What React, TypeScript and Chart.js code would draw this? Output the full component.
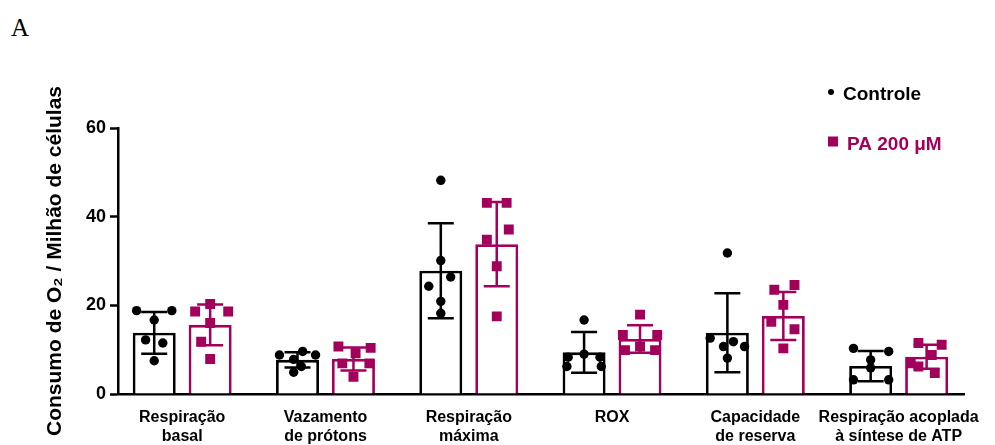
import { useEffect, useRef } from 'react';
import { Chart, registerables } from 'chart.js';

Chart.register(...registerables);

// ---- data ----
const categories: string[][] = [
  ['Respiração', 'basal'],
  ['Vazamento', 'de prótons'],
  ['Respiração', 'máxima'],
  ['ROX'],
  ['Capacidade', 'de reserva'],
  ['Respiração acoplada', 'à síntese de ATP'],
];

const seriesNames = ['Controle', 'PA 200 μM'];

const controleMean = [13.8, 7.7, 27.8, 9.4, 13.8, 6.3];
const controleSD = [4.7, 1.7, 10.7, 4.6, 8.9, 3.4];
const paMean = [15.6, 7.9, 33.8, 12.4, 17.6, 8.4];
const paSD = [4.6, 2.6, 9.5, 3.1, 5.4, 2.7];

// individual replicates per category
const controlePoints = [
  [18.8, 18.8, 16.7, 12.2, 11.5, 7.5],
  [9.6, 8.8, 8.8, 7.8, 6.2, 4.9],
  [48.2, 30.1, 26.4, 24.3, 20.9, 18.2],
  [16.7, 9.0, 8.3, 8.3, 6.2, 6.2],
  [31.8, 12.6, 11.8, 10.7, 10.7, 8.1],
  [10.3, 9.6, 7.7, 5.9, 3.2, 3.2],
];
const paPoints = [
  [20.3, 18.6, 18.6, 16.0, 11.8, 7.9],
  [10.7, 10.4, 9.2, 6.9, 6.9, 3.9],
  [43.1, 43.1, 37.1, 34.8, 28.8, 17.5],
  [17.9, 13.3, 13.3, 10.7, 9.9, 9.9],
  [24.6, 23.5, 20.1, 16.3, 14.6, 10.3],
  [11.5, 11.1, 8.8, 6.9, 6.2, 4.7],
];

// horizontal scatter of the replicates, as a fraction of bar width
const controleJitter = [
  [-0.41, 0.41, 0, -0.2, 0.2, 0],
  [0.12, -0.42, 0.42, -0.09, 0.09, -0.09],
  [0, 0, 0.23, -0.28, 0, 0],
  [0, 0, -0.37, 0.37, -0.4, 0.4],
  [0, -0.4, 0.14, -0.09, 0.4, 0],
  [-0.4, 0.42, 0, 0, -0.4, 0.42],
];
const paJitter = [
  [0, -0.35, 0.42, 0, -0.21, 0],
  [-0.35, 0.4, 0.05, -0.26, 0.37, 0],
  [-0.23, 0.23, 0.28, -0.23, 0, 0],
  [0, -0.4, 0.4, 0, -0.35, 0.35],
  [0.26, -0.21, 0, -0.28, 0.26, 0],
  [-0.19, 0.35, 0.12, -0.37, -0.19, 0.19],
];

// ---- styling ----
const FONT = "'Liberation Sans', Arial, sans-serif";
const BLACK = '#000000';
const PINK = '#a3005b';
const CATEGORY_PCT = 0.781;
const BAR_PCT = 0.768;
const BAR_SHIFT = CATEGORY_PCT / 4;
const BAR_UNITS = (CATEGORY_PCT / 2) * BAR_PCT;

function replicateData(values: number[][], jitter: number[][], side: number) {
  const out: { x: number; y: number }[] = [];
  values.forEach((group, i) =>
    group.forEach((v, k) => {
      out.push({ x: i + side * BAR_SHIFT + jitter[i][k] * BAR_UNITS, y: v });
    })
  );
  return out;
}

const errorBarsPlugin = {
  id: 'errorBars',
  afterDatasetsDraw(chart: any) {
    const { ctx } = chart;
    const yScale = chart.scales.y;
    chart.data.datasets.forEach((ds: any, di: number) => {
      if (!ds.sd) return;
      const meta = chart.getDatasetMeta(di);
      meta.data.forEach((bar: any, j: number) => {
        const m = ds.data[j].y;
        const hi = yScale.getPixelForValue(m + ds.sd[j]);
        const lo = yScale.getPixelForValue(m - ds.sd[j]);
        const half = 13;
        ctx.save();
        ctx.strokeStyle = ds.borderColor;
        ctx.lineWidth = 2.5;
        ctx.beginPath();
        ctx.moveTo(bar.x, hi);
        ctx.lineTo(bar.x, lo);
        ctx.moveTo(bar.x - half, hi);
        ctx.lineTo(bar.x + half, hi);
        ctx.moveTo(bar.x - half, lo);
        ctx.lineTo(bar.x + half, lo);
        ctx.stroke();
        ctx.restore();
      });
    });
  },
};

const legendPlugin = {
  id: 'cornerLegend',
  afterDraw(chart: any) {
    const { ctx } = chart;
    ctx.save();
    ctx.font = `bold 19px ${FONT}`;
    ctx.textBaseline = 'alphabetic';
    ctx.textAlign = 'left';
    ctx.fillStyle = BLACK;
    ctx.beginPath();
    ctx.arc(831, 92, 3, 0, Math.PI * 2);
    ctx.fill();
    ctx.fillText(seriesNames[0], 843, 100);
    ctx.fillStyle = PINK;
    ctx.fillRect(828, 136.5, 10, 10);
    ctx.fillText(seriesNames[1], 847, 150);
    ctx.restore();
  },
};

export default function App() {
  const canvasRef = useRef<HTMLCanvasElement | null>(null);

  useEffect(() => {
    const canvas = canvasRef.current;
    if (!canvas) return;

    const chart = new Chart(canvas, {
      type: 'bar',
      data: {
        datasets: [
          {
            type: 'bar',
            label: seriesNames[0],
            data: controleMean.map((v, i) => ({ x: i, y: v })),
            sd: controleSD,
            backgroundColor: '#ffffff',
            borderColor: BLACK,
            borderWidth: 2.8,
            categoryPercentage: CATEGORY_PCT,
            barPercentage: BAR_PCT,
            order: 2,
          } as any,
          {
            type: 'bar',
            label: seriesNames[1],
            data: paMean.map((v, i) => ({ x: i, y: v })),
            sd: paSD,
            backgroundColor: '#ffffff',
            borderColor: PINK,
            borderWidth: 2.8,
            categoryPercentage: CATEGORY_PCT,
            barPercentage: BAR_PCT,
            order: 2,
          } as any,
          {
            type: 'scatter',
            label: seriesNames[0] + ' (n)',
            data: replicateData(controlePoints, controleJitter, -1),
            pointStyle: 'circle',
            pointRadius: 4.7,
            pointBackgroundColor: BLACK,
            pointBorderWidth: 0,
            showLine: false,
            order: 1,
          } as any,
          {
            type: 'scatter',
            label: seriesNames[1] + ' (n)',
            data: replicateData(paPoints, paJitter, 1),
            pointStyle: 'rect',
            pointRadius: 7,
            pointBackgroundColor: PINK,
            pointBorderWidth: 0,
            showLine: false,
            order: 1,
          } as any,
        ],
      },
      options: {
        responsive: false,
        maintainAspectRatio: false,
        animation: false,
        devicePixelRatio: 1,
        events: [],
        layout: { padding: { top: 128, right: 30, bottom: 0, left: 0 } },
        plugins: {
          legend: { display: false },
          tooltip: { enabled: false },
        },
        scales: {
          x: {
            type: 'linear',
            min: -0.448,
            max: 5.458,
            offset: false,
            z: 1,
            grid: { display: false, drawTicks: false, offset: false },
            border: { display: true, color: BLACK, width: 2.5 },
            afterBuildTicks: (axis: any) => {
              axis.ticks = categories.map((_, i) => ({ value: i }));
            },
            afterFit: (s: any) => {
              s.height = 51;
            },
            ticks: {
              autoSkip: false,
              maxRotation: 0,
              minRotation: 0,
              padding: 14,
              color: BLACK,
              font: { family: FONT, size: 16, weight: 'bold', lineHeight: 1.2 },
              callback: (v: any) => categories[Math.round(Number(v))] ?? '',
            },
          },
          y: {
            type: 'linear',
            min: 0,
            max: 60,
            z: 1,
            grid: {
              drawOnChartArea: false,
              drawTicks: true,
              tickLength: 8,
              tickWidth: 2.5,
              tickColor: BLACK,
            },
            border: { display: true, color: BLACK, width: 2.5 },
            ticks: {
              stepSize: 20,
              padding: 4,
              color: BLACK,
              font: { family: FONT, size: 18, weight: 'bold' },
            },
            title: {
              display: true,
              text: 'Consumo de O₂ / Milhão de células',
              color: BLACK,
              font: { family: FONT, size: 21, weight: 'bold' },
              padding: { top: 43, bottom: 0 },
            },
            afterFit: (s: any) => {
              s.width = 118;
            },
          },
        },
      } as any,
      plugins: [errorBarsPlugin, legendPlugin],
    });

    return () => chart.destroy();
  }, []);

  return (
    <div style={{ position: 'absolute', left: 0, top: 0, width: 995, height: 445, background: '#fff' }}>
      <div
        style={{
          position: 'absolute',
          left: 11,
          top: 15,
          fontFamily: "'Liberation Serif', 'Times New Roman', serif",
          fontSize: 25,
          lineHeight: 1,
          color: '#000',
        }}
      >
        A
      </div>
      <canvas
        ref={canvasRef}
        width={995}
        height={445}
        style={{ position: 'absolute', left: 0, top: 0, width: 995, height: 445 }}
      />
    </div>
  );
}
